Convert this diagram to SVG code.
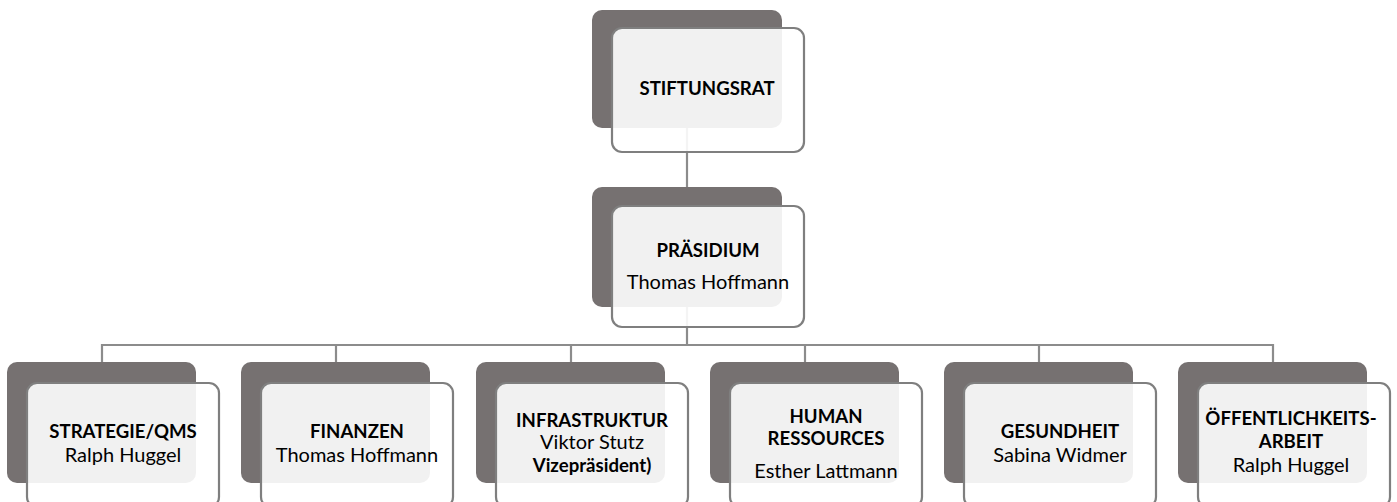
<svg xmlns="http://www.w3.org/2000/svg" width="1397" height="502" viewBox="0 0 1397 502">
<style>
.bg{fill:#ffffff}
.back{fill:#767171}
.front{fill:#ffffff;fill-opacity:0.9;stroke:#7f7f7f;stroke-width:2.2}
.conn{fill:none;stroke:#8c8c8c;stroke-width:2.2}
text{font-family:Lato,"Liberation Sans",sans-serif;font-size:20px;fill:#000;text-anchor:middle}
.b{font-weight:bold;font-size:18.6px}
</style>
<rect class="bg" x="0" y="0" width="1397" height="502"/>
<g id="connectors">
<path class="conn" d="M687,128 V187"/>
<path class="conn" d="M687,307 V345"/>
<path class="conn" d="M102,362 V345 H1273 V362"/>
<path class="conn" d="M336,345 V362"/>
<path class="conn" d="M571,345 V362"/>
<path class="conn" d="M805,345 V362"/>
<path class="conn" d="M1039,345 V362"/>
</g>
<g id="stiftungsrat">
<rect class="back" x="592" y="10" width="190" height="118" rx="10"/>
<rect class="front" x="612" y="28" width="192" height="124" rx="10"/>
<text class="b" x="707" y="95">STIFTUNGSRAT</text>
</g>
<g id="praesidium">
<rect class="back" x="592" y="187" width="190" height="120" rx="10"/>
<rect class="front" x="612" y="206" width="192" height="121" rx="10"/>
<text class="b" x="708" y="257">PRÄSIDIUM</text>
<text x="708" y="289">Thomas Hoffmann</text>
</g>
<g id="strategie">
<rect class="back" x="7" y="362" width="189" height="121" rx="10"/>
<rect class="front" x="27" y="383" width="192" height="124" rx="10"/>
<text class="b" x="123" y="438">STRATEGIE/QMS</text>
<text x="123" y="462">Ralph Huggel</text>
</g>
<g id="finanzen">
<rect class="back" x="241" y="362" width="189" height="121" rx="10"/>
<rect class="front" x="261" y="383" width="192" height="124" rx="10"/>
<text class="b" x="357" y="438">FINANZEN</text>
<text x="357" y="462">Thomas Hoffmann</text>
</g>
<g id="infrastruktur">
<rect class="back" x="476" y="362" width="189" height="121" rx="10"/>
<rect class="front" x="496" y="383" width="192" height="124" rx="10"/>
<text class="b" x="592" y="427">INFRASTRUKTUR</text>
<text x="592" y="449">Viktor Stutz</text>
<text class="b" x="592" y="472">Vizepräsident)</text>
</g>
<g id="human-ressources">
<rect class="back" x="710" y="362" width="189" height="121" rx="10"/>
<rect class="front" x="730" y="383" width="192" height="124" rx="10"/>
<text class="b" x="826" y="423">HUMAN</text>
<text class="b" x="826" y="445">RESSOURCES</text>
<text x="826" y="478">Esther Lattmann</text>
</g>
<g id="gesundheit">
<rect class="back" x="944" y="362" width="189" height="121" rx="10"/>
<rect class="front" x="964" y="383" width="192" height="124" rx="10"/>
<text class="b" x="1060" y="438">GESUNDHEIT</text>
<text x="1060" y="462">Sabina Widmer</text>
</g>
<g id="oeffentlichkeitsarbeit">
<rect class="back" x="1178" y="362" width="189" height="121" rx="10"/>
<rect class="front" x="1198" y="383" width="192" height="124" rx="10"/>
<text class="b" x="1291" y="425">ÖFFENTLICHKEITS-</text>
<text class="b" x="1291" y="448">ARBEIT</text>
<text x="1291" y="472">Ralph Huggel</text>
</g>
</svg>
